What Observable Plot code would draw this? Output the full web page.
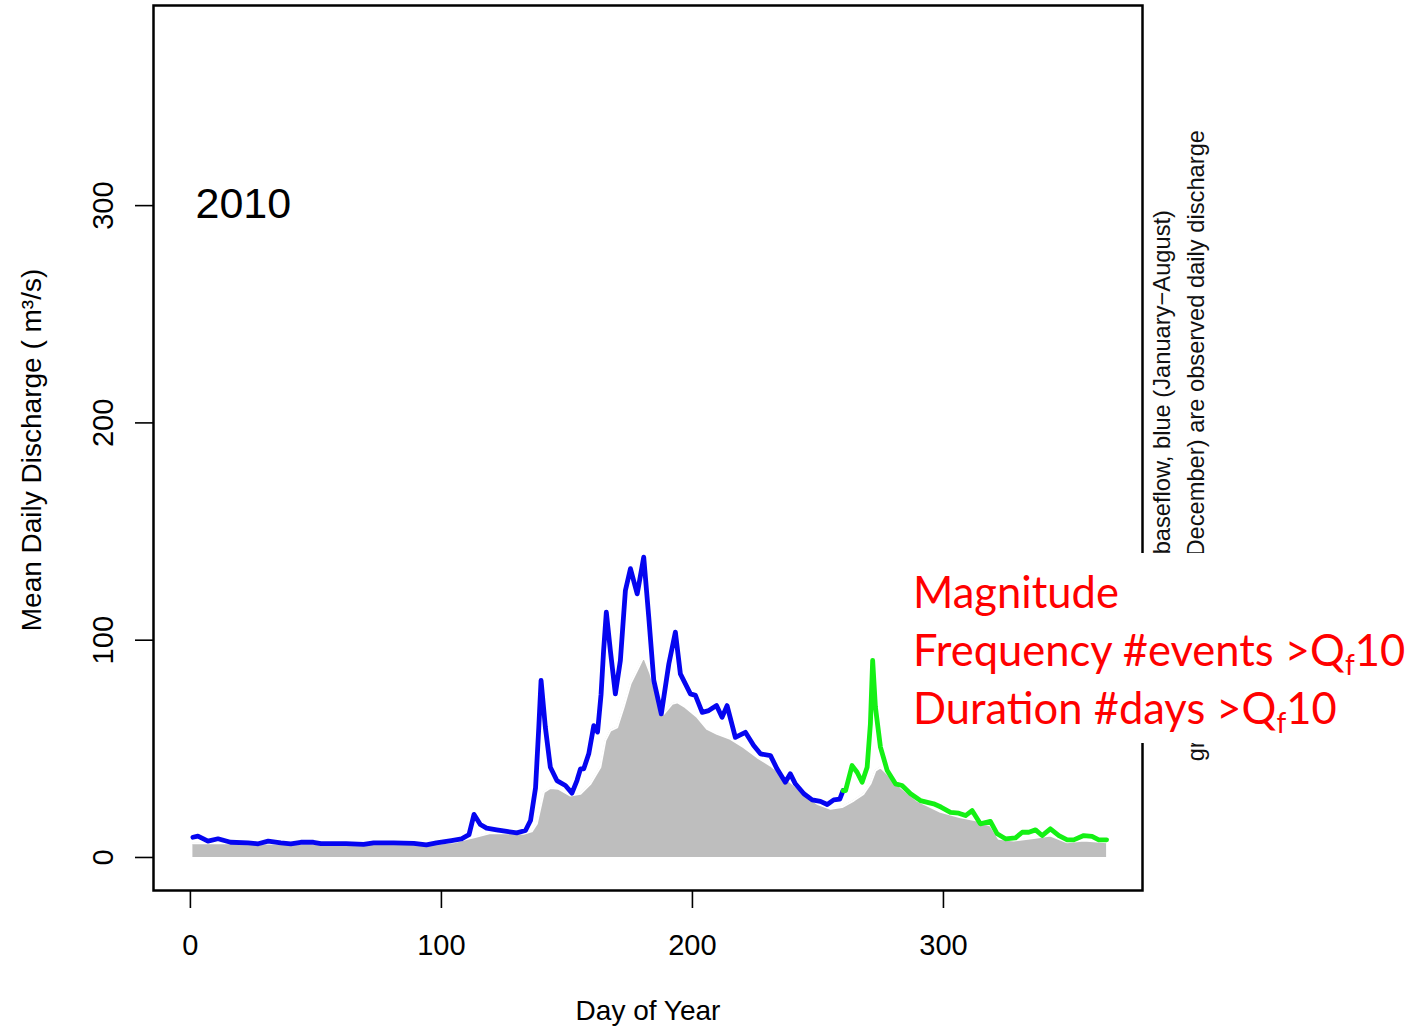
<!DOCTYPE html>
<html>
<head>
<meta charset="utf-8">
<script src="https://cdn.jsdelivr.net/npm/d3@7"></script>
<script src="https://cdn.jsdelivr.net/npm/@observablehq/plot@0.6"></script>
<style>
  body { margin: 0; background: #fff; }
  #chart { width: 1424px; height: 1030px; }
</style>
</head>
<body>
<div id="chart"></div>
<script>
// Observed daily discharge, January–August (blue)
const blueDay = [1, 3, 7, 11, 16, 23, 27, 31, 36, 40, 44, 49, 52, 62, 69, 73, 81, 89, 94, 98,
  104, 108, 111, 113, 115.5, 118, 122, 126, 130, 133.5, 135.5, 137.5, 138.8, 139.7, 141.4, 143.4,
  146, 149.4, 152, 154, 155.4, 156.7, 158.7, 160.7, 162.2, 163.6, 164.6, 165.7, 167.3, 169.3, 171.3,
  173.3, 175.3, 178, 180.6, 182.6, 184.6, 187.6, 190.6, 193.2, 195.2, 197.2, 199.2, 201.2, 203.9,
  206.5, 209.6, 211.8, 213.8, 217.1, 221.1, 224.4, 227.1, 231.1, 233.7, 237, 239, 241, 244.4,
  247.7, 251, 253.7, 256.3, 258.7, 260];
const blueQ = [9.3, 9.8, 7.5, 8.6, 7.0, 6.7, 6.3, 7.5, 6.7, 6.3, 7.0, 7.0, 6.4, 6.4, 6.0, 6.7, 6.7, 6.5, 5.8, 6.7,
  7.8, 8.6, 10.5, 19.8, 15.2, 13.5, 12.7, 12.0, 11.3, 12.4, 17, 32, 60, 81.5, 60, 41.5,
  35.4, 33.1, 29.6, 35.4, 40.8, 40.8, 47.7, 60.7, 57.7, 75, 95, 112.9, 95.3, 75.3, 90.7,
  122.9, 132.9, 121.3, 138.2, 110.6, 81.5, 66.1, 89.1, 103.7, 84.5, 79.9, 75.3, 74.6, 66.8,
  67.6, 69.9, 64.5, 69.9, 55.3, 57.6, 51.5, 47.7, 46.9, 40.8, 34.6, 38.5, 33.9, 29.3,
  26.5, 25.8, 24.4, 26.5, 26.9, 30.8];

// Observed daily discharge, September–December (green)
const greenDay = [260, 261, 263.6, 265.6, 267.6, 269.6, 270.9, 271.8, 272.9, 274.9, 277.6, 280.9,
  283.5, 286.9, 290.8, 296.1, 299, 302.8, 306.1, 308.8, 311.4, 314.7, 318.7, 321.4, 324.7, 328.7,
  331.4, 334, 336.7, 339.3, 342.6, 346, 349.3, 351.9, 355.9, 359.2, 361.9, 365];
const greenQ = [30.8, 30.8, 42.3, 39.2, 34.6, 41.5, 61.5, 90.7, 69.2, 50.8, 40, 33.9,
  33.1, 29.3, 26.2, 24.7, 23.2, 20.8, 20.4, 19.3, 21.6, 15.5, 16.6, 10.9, 8.6, 9.0,
  11.6, 11.6, 12.7, 10.1, 13.2, 10.1, 8.1, 8.1, 10.1, 9.7, 8.1, 8.1];

// Baseflow (grey)
const baseDay = [1, 20, 40, 60, 80, 100, 105, 110, 113, 119.5, 125, 132.7, 136, 138, 140.8, 143.4,
  146.7, 151.4, 155.4, 159.4, 163.3, 165.3, 167.3, 170, 172.6, 175.3, 178.6, 180.6, 183.3, 185.9,
  188.6, 191.9, 194.1, 197.2, 201.9, 205.8, 209.8, 215.1, 220.4, 225.8, 231.1, 235.1, 243, 249.7,
  255, 259.6, 264.3, 268.2, 270.9, 272.9, 274.9, 277.6, 282.9, 289.5, 298.8, 306.8, 313.4, 318.7,
  322, 328, 336, 342.6, 349.3, 355.9, 365];
const baseQ = [6.5, 6.5, 6.3, 6.3, 6.3, 6.5, 7, 8.5, 9.3, 11.2, 11.3, 10.9, 12, 15.5, 30, 32,
  31.6, 28.5, 29.3, 33.9, 41.5, 53.8, 58.4, 59.9, 69.2, 79.9, 87.6, 92.5, 84.5, 73.7,
  66.1, 70.7, 71.4, 69.2, 64.6, 59.2, 56.9, 54.6, 50.8, 46.1, 42.3, 38.5, 30.8, 24.7,
  22.4, 23.2, 26.2, 29.3, 33.9, 40, 41.5, 38.5, 32.3, 26.2, 21, 18.5, 17.0, 14.7,
  8.6, 7.8, 9.0, 10.1, 7.0, 7.8, 7.0];

const xTicks = [0, 100, 200, 300];
const yTicks = [0, 100, 200, 300];
const yearLabel = "2010";

const rows = (days, qs) => days.map((d, i) => ({day: d, q: qs[i]}));
const blue = rows(blueDay, blueQ);
const green = rows(greenDay, greenQ);
const base = rows(baseDay, baseQ);

const font = "'Liberation Sans', Arial, sans-serif";

const chart = Plot.plot({
  width: 1424,
  height: 1030,
  marginLeft: 153,
  marginRight: 282,
  marginTop: 5,
  marginBottom: 140,
  style: {fontFamily: font, background: "white", color: "black", overflow: "visible"},
  x: {domain: [-14.7, 379.3]},
  y: {domain: [-15.2, 392.1]},
  marks: [
    Plot.areaY(base, {x: "day", y: "q", fill: "#bebebe"}),
    Plot.lineY(base, {x: "day", y: "q", stroke: "white", strokeWidth: 2}),
    Plot.lineY(blue, {x: "day", y: "q", stroke: "#0505f0", strokeWidth: 4.8}),
    Plot.lineY(green, {x: "day", y: "q", stroke: "#14f014", strokeWidth: 4.8}),
    Plot.frame({stroke: "black", strokeWidth: 2.5}),
    Plot.axisX({ticks: xTicks, tickSize: 18, tickPadding: 26, fontSize: 29, label: null,
      strokeWidth: 1.6}),
    Plot.axisY({ticks: yTicks, tickSize: 18, tickRotate: -90, textAnchor: "middle",
      lineAnchor: "middle", tickPadding: 32, fontSize: 29, label: null, strokeWidth: 1.6}),
    Plot.text([yearLabel], {text: d => d, frameAnchor: "top-left", textAnchor: "start",
      lineAnchor: "middle", dx: 42, dy: 199, fontSize: 43}),
    Plot.text(["Day of Year"], {text: d => d, frameAnchor: "bottom", lineAnchor: "middle",
      dy: 121, fontSize: 28}),
    Plot.text(["Mean Daily Discharge ( m³/s)"], {text: d => d, frameAnchor: "left", rotate: -90,
      textAnchor: "middle", lineAnchor: "middle", dx: -121, dy: 2, fontSize: 28})
  ]
});

document.getElementById("chart").appendChild(chart);

const svg = d3.select(chart);

// Explanatory note running up the right margin
const note = svg.append("g")
  .attr("font-family", font)
  .attr("font-size", 23.7)
  .attr("fill", "#111");
note.append("text")
  .attr("transform", "translate(1170,210) rotate(-90)")
  .attr("text-anchor", "end")
  .text("Grey is baseflow, blue (January\u2212August)");
note.append("text")
  .attr("transform", "translate(1204,130) rotate(-90)")
  .attr("text-anchor", "end")
  .text("green (September\u2212December) are observed daily discharge");

// Flow metrics annotation box
const box = svg.append("g");
box.append("rect")
  .attr("x", 905).attr("y", 553)
  .attr("width", 519).attr("height", 190)
  .attr("fill", "white");
const metrics = box.append("g")
  .attr("font-family", "Lato, 'Open Sans', sans-serif")
  .attr("font-size", 43.5)
  .attr("text-anchor", "start")
  .attr("fill", "#ff0000");
metrics.append("text").attr("x", 913).attr("y", 608).text("Magnitude");
const freq = metrics.append("text").attr("x", 913).attr("y", 666);
freq.append("tspan").text("Frequency #events >Q");
freq.append("tspan").attr("font-size", 28).attr("dy", 9).text("f");
freq.append("tspan").attr("dy", -9).text("10");
const dur = metrics.append("text").attr("x", 913).attr("y", 724);
dur.append("tspan").text("Duration #days >Q");
dur.append("tspan").attr("font-size", 28).attr("dy", 9).text("f");
dur.append("tspan").attr("dy", -9).text("10");
</script>
</body>
</html>
